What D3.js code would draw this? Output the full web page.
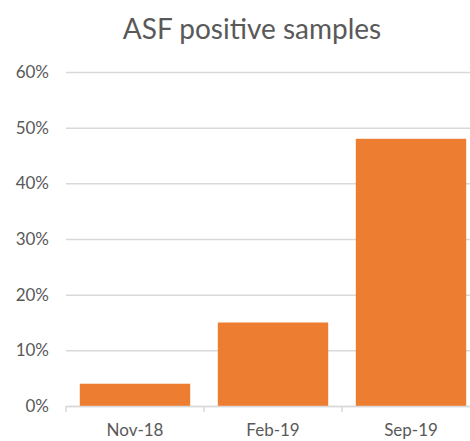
<!DOCTYPE html>
<html><head><meta charset="utf-8">
<script src="https://cdn.jsdelivr.net/npm/d3@7"></script>
<style>body{margin:0;background:#fff}svg{display:block}text{font-family:Lato,"Open Sans",sans-serif;fill:#595959}</style>
</head><body>
<script>
const categories = ["Nov-18", "Feb-19", "Sep-19"];
const values = [0.04, 0.15, 0.48];
const yTicks = [0, 0.1, 0.2, 0.3, 0.4, 0.5, 0.6];
const title = "ASF positive samples";

const W = 470, H = 441;
const svg = d3.select("body").append("svg").attr("width", W).attr("height", H);
const x = d3.scaleBand().domain(categories).range([66, 480]).paddingInner(0.2).paddingOuter(0.1);
const y = d3.scaleLinear().domain([0, 0.6]).range([406, 72]);

svg.append("text").attr("x", 252).attr("y", 39).attr("text-anchor", "middle")
  .style("font-size", "28px").text(title);

const gy = svg.append("g").attr("transform", "translate(66,0)")
  .call(d3.axisLeft(y).tickValues(yTicks).tickFormat(d3.format(".0%")).tickSize(-(480 - 66)).tickPadding(17));
gy.select(".domain").remove();
gy.selectAll(".tick line").attr("stroke", "#d9d9d9").attr("stroke-width", 1.5);
gy.selectAll(".tick text").style("font-size", "17px").style("fill", "#595959");

svg.append("g").selectAll("rect").data(values).join("rect")
  .attr("x", (d, i) => x(categories[i])).attr("width", x.bandwidth())
  .attr("y", d => y(d)).attr("height", d => y(0) - y(d)).attr("fill", "#ED7D31");

const gx = svg.append("g").attr("transform", "translate(0,406)")
  .call(d3.axisBottom(x).tickSize(0).tickPadding(18));
gx.select(".domain").attr("stroke", "#d9d9d9").attr("stroke-width", 1.5);
gx.selectAll(".tick text").style("font-size", "17px").style("fill", "#595959");
const step = x.step();
svg.append("g").selectAll("line").data(d3.range(categories.length + 1)).join("line")
  .attr("x1", i => 66 + i * step).attr("x2", i => 66 + i * step)
  .attr("y1", 406).attr("y2", 412).attr("stroke", "#d9d9d9").attr("stroke-width", 1.5);
</script>
</body></html>
